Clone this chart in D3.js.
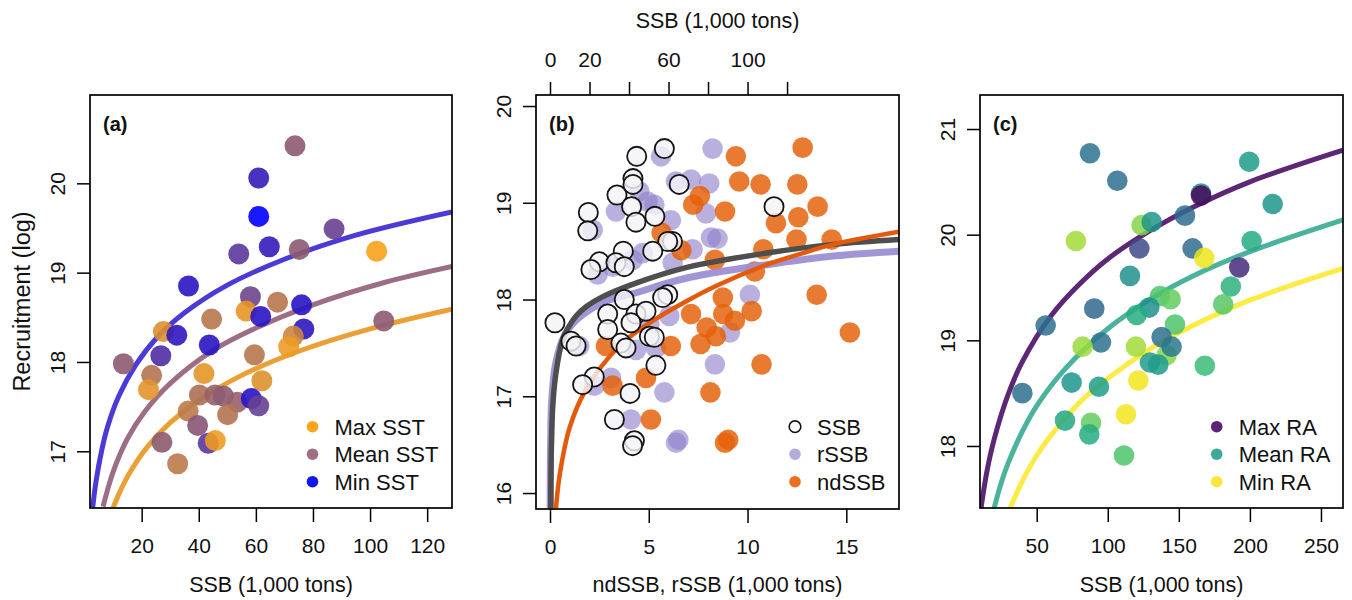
<!DOCTYPE html>
<html><head><meta charset="utf-8">
<script src="https://cdn.jsdelivr.net/npm/d3@7"></script>
<style>body{margin:0;background:#fff}</style>
</head><body><svg id="c" width="1352" height="600"></svg>
<script>
// ---------- DATA ----------
// Panel (a): SSB vs log recruitment, coloured by SST (0 = min, 0.5 = mean, 1 = max)
const aSSB  = [73.7,61,61,87.4,64.7,54,75.2,102.3,36.4,58.1,56.6,61.7,67.6,76,44.5,104.8,27.6,32.3,76.8,73.1,71.5,43.7,26.7,13.6,59.5,41.8,23.5,22.4,62.1,40.2,45.7,48.6,53.5,58.4,61,36.3,50.1,39.6,27.1,43.3,45.8,32.6];
const aRec  = [20.42,20.06,19.63,19.49,19.29,19.21,19.26,19.24,18.85,18.73,18.57,18.51,18.67,18.64,18.48,18.46,18.34,18.30,18.37,18.29,18.17,18.19,18.07,17.98,18.08,17.87,17.85,17.69,17.79,17.63,17.63,17.62,17.55,17.59,17.51,17.45,17.41,17.29,17.10,17.09,17.12,16.86];
const aSST  = [0.5,0.15,0.0,0.35,0.15,0.3,0.5,1.0,0.1,0.38,0.92,0.1,0.7,0.1,0.7,0.5,0.88,0.12,0.12,0.8,0.95,0.1,0.25,0.5,0.7,0.92,0.68,0.9,0.88,0.65,0.55,0.5,0.55,0.1,0.35,0.72,0.68,0.48,0.5,0.3,0.95,0.72];
const aMaxCurve  = [[9.96,16.36],[12,16.52],[16,16.77],[22,17.05],[30,17.32],[40,17.57],[55,17.85],[75,18.12],[100,18.37],[128.7,18.59]];
const aMeanCurve = [[6.47,16.38],[10,16.77],[15,17.14],[21,17.44],[30,17.76],[45,18.13],[60,18.38],[80,18.64],[105,18.89],[128.7,19.07]];
const aMinCurve  = [[2.85,16.37],[4,16.66],[6,17.01],[8,17.27],[12,17.62],[18,17.97],[25,18.26],[35,18.55],[50,18.86],[70,19.15],[95,19.42],[128.7,19.68]];
const aLegend = ["Max SST","Mean SST","Min SST"];
const aTicksX = [20,40,60,80,100,120];
const aTicksY = [17,18,19,20];

// Panel (b)
const bSSB   = [[57.9,19.56],[43.9,19.48],[42,19.25],[42,19.19],[65.4,19.19],[33.9,19.08],[41.3,18.96],[19.4,18.90],[43.5,18.80],[53.1,18.86],[19.1,18.71],[62,18.60],[59.6,18.60],[52,18.50],[37.1,18.50],[25,18.39],[33.4,18.38],[37.6,18.34],[20.7,18.31],[37.6,18.0],[59.6,18.05],[57,18.02],[2.5,17.76],[10.6,17.57],[13.2,17.52],[29.2,17.85],[29.2,17.69],[43.5,17.85],[48.6,17.88],[35.9,17.55],[38.5,17.50],[50.3,17.62],[52.8,17.61],[41,17.76],[53.6,17.32],[22.4,17.20],[16.5,17.12],[40.5,17.03],[32.6,16.76],[42.7,16.54],[41.8,16.49],[113.4,18.96]];
const bRSSB  = [[8.23,19.56],[5.62,19.48],[6.38,19.22],[7.14,19.24],[8.06,19.20],[4.52,19.12],[4.94,19.01],[3.34,18.91],[5.28,18.98],[7.89,18.89],[6.12,18.82],[2.16,18.72],[8.15,18.64],[8.48,18.63],[7.22,18.52],[4.69,18.48],[4.18,18.41],[3.17,18.34],[6.21,18.38],[2.41,18.26],[10.12,18.05],[9.11,17.66],[8.35,17.33],[1.48,17.52],[3.09,17.19],[2.24,17.11],[5.79,17.04],[4.1,16.76],[6.38,16.52],[6.5,16.55],[5.03,17.74],[6.04,17.83],[4.35,17.48],[5.36,17.50]];
const bNdSSB = [[12.79,19.57],[9.41,19.48],[9.58,19.22],[10.66,19.19],[12.52,19.19],[13.55,18.96],[8.86,18.91],[11.44,18.79],[12.57,18.85],[12.48,18.62],[14.26,18.62],[10.8,18.52],[8.35,18.41],[10.37,18.29],[13.5,18.05],[15.18,17.66],[10.71,17.33],[8.75,18.02],[10.21,17.88],[8.77,17.85],[9.36,17.78],[7.93,17.71],[8.4,17.62],[7.62,17.54],[8.12,17.04],[8.86,16.52],[9.02,16.55],[7.25,18.98],[7.59,19.07],[5.65,18.69],[6.65,18.51],[2.83,17.52],[4.86,17.19],[3.17,17.11],[5.11,16.76],[6.12,17.52],[7.14,17.85]];
const bSSBCurve   = [[0.4,15.84],[0.6,16.38],[1.4,16.90],[3,17.24],[6.4,17.59],[9.2,17.71],[13.2,17.83],[18.6,17.93],[26.7,18.03],[43.5,18.17],[68.8,18.33],[109.7,18.48],[143.4,18.57],[176.7,18.62]];
const bRSSBCurve  = [[0.01,15.84],[0.03,16.5],[0.1,17.0],[0.35,17.4],[0.98,17.71],[2.67,17.97],[4.35,18.07],[6.88,18.22],[10.97,18.36],[14.34,18.45],[17.67,18.50]];
const bNdCurve    = [[0.3,15.84],[0.5,16.2],[1.0,16.68],[1.82,17.07],[3.51,17.52],[5.2,17.78],[6.88,17.98],[8.4,18.14],[10.97,18.36],[12.65,18.47],[14.34,18.57],[17.67,18.70]];
const bLegend = ["SSB","rSSB","ndSSB"];
const bTicksX = [0,5,10,15];
const bTicksTop = [0,20,40,60,80,100,120];
const bTopLabels = [0,20,60,100];
const bTicksY = [16,17,18,19,20];

// Panel (c): coloured by RA (viridis, 0 = max RA, 1 = min RA)
const cSSB = [77.6,87.5,106.7,199.5,216,165.6,165.6,154.3,123.8,130.9,122.2,159.7,167.9,201.2,192.5,115.6,186.6,181.2,90.5,136.7,144.2,129.2,120.3,147.3,56.3,95.2,82.3,119.8,141.4,137.9,144.9,129.7,135.5,168.3,74.6,93.8,121.5,39.9,112.8,69.9,88.2,87,111.4];
const cRec = [19.94,20.77,20.51,20.69,20.29,20.39,20.37,20.18,20.09,20.12,19.87,19.87,19.78,19.94,19.69,19.61,19.51,19.34,19.30,19.42,19.39,19.31,19.24,19.15,19.14,18.98,18.94,18.94,18.86,19.03,18.94,18.79,18.77,18.76,18.60,18.56,18.62,18.50,18.30,18.24,18.22,18.11,17.91];
const cRA  = [0.86,0.38,0.36,0.55,0.52,0.5,0.02,0.35,0.82,0.52,0.22,0.35,0.97,0.62,0.12,0.5,0.64,0.74,0.33,0.72,0.76,0.5,0.62,0.72,0.36,0.38,0.85,0.86,0.82,0.36,0.4,0.55,0.55,0.68,0.52,0.56,0.98,0.36,0.98,0.6,0.76,0.62,0.72];
const cMaxCurve  = [[10.8,17.41],[15,17.76],[20,18.06],[30,18.49],[40,18.80],[60,19.23],[80,19.53],[100,19.77],[130,20.04],[160,20.26],[200,20.50],[265.5,20.80]];
const cMeanCurve = [[20,17.41],[25,17.65],[30,17.84],[40,18.14],[50,18.38],[70,18.73],[100,19.11],[130,19.39],[160,19.61],[200,19.84],[265.5,20.14]];
const cMinCurve  = [[31.2,17.41],[40,17.67],[50,17.91],[60,18.10],[80,18.41],[100,18.64],[130,18.92],[160,19.14],[200,19.38],[265.5,19.68]];
const cLegend = ["Max RA","Mean RA","Min RA"];
const cTicksX = [50,100,150,200,250];
const cTicksY = [18,19,20,21];

// ---------- DRAWING ----------
const FONT = "'Liberation Sans', Arial, Helvetica, sans-serif";
const svg = d3.select("#c").attr("font-family", FONT);

function panel(id, box, xDom, yDom) {
  const x = d3.scaleLinear().domain(xDom).range([box.l, box.r]);
  const y = d3.scaleLinear().domain(yDom).range([box.b, box.t]);
  svg.append("clipPath").attr("id", id).append("rect")
    .attr("x", box.l).attr("y", box.t).attr("width", box.r - box.l).attr("height", box.b - box.t);
  const g = svg.append("g").attr("clip-path", `url(#${id})`);
  return {x, y, g, box};
}
function styleAxis(g) {
  g.attr("font-family", FONT).attr("font-size", 21);
  g.select(".domain").remove();
  g.selectAll("line").attr("stroke", "#000").attr("stroke-width", 1.5);
  g.selectAll("text").attr("fill", "#111");
}
function bottomAxis(P, ticks) {
  svg.append("g").attr("transform", `translate(0,${P.box.b})`)
    .call(d3.axisBottom(P.x).tickValues(ticks).tickSize(14).tickPadding(16).tickFormat(d3.format("d")))
    .call(styleAxis);
}
function leftAxis(P, ticks) {
  svg.append("g").attr("transform", `translate(${P.box.l},0)`)
    .call(d3.axisLeft(P.y).tickValues(ticks).tickSize(13).tickFormat(d3.format("d")))
    .call(styleAxis)
    .call(g => g.selectAll("text").attr("transform", "rotate(-90)").attr("x", 0).attr("y", -25)
      .attr("dy", null).attr("text-anchor", "middle"));
}
function frameBox(P) {
  svg.append("rect").attr("x", P.box.l).attr("y", P.box.t)
    .attr("width", P.box.r - P.box.l).attr("height", P.box.b - P.box.t)
    .attr("fill", "none").attr("stroke", "#000").attr("stroke-width", 1.7);
}
function curve(P, xs, pts, color, w, op) {
  P.g.append("path").datum(pts)
    .attr("d", d3.line().x(d => xs(d[0])).y(d => P.y(d[1])).curve(d3.curveCatmullRom.alpha(0.5)))
    .attr("fill", "none").attr("stroke", color).attr("stroke-width", w)
    .attr("stroke-opacity", op).attr("stroke-linecap", "butt");
}
function label(P, txt) {
  svg.append("text").attr("x", P.box.l + 13).attr("y", P.box.t + 36)
    .attr("font-weight", "bold").attr("font-size", 20).attr("fill", "#111").text(txt);
}
function legend(xc, items, texts) {
  const ys = [426.7, 454.2, 481.7];
  items.forEach((it, i) => {
    svg.append("circle").attr("cx", xc).attr("cy", ys[i]).attr("r", 5.8)
      .attr("fill", it.fill).attr("fill-opacity", it.fo == null ? 1 : it.fo)
      .attr("stroke", it.stroke || "none").attr("stroke-width", 1.6);
    svg.append("text").attr("x", xc + 22).attr("y", ys[i]).attr("dy", "0.36em")
      .attr("font-size", 22).attr("fill", "#111").text(texts[i]);
  });
}
function xTitle(cx, y, txt) {
  svg.append("text").attr("x", cx).attr("y", y).attr("text-anchor", "middle")
    .attr("font-size", 21.5).attr("fill", "#111").text(txt);
}

// ----- Panel (a)
const A = panel("clipA", {l: 90, r: 452, t: 95, b: 508}, [1.9, 128.7], [16.365, 20.989]);
const sstColor = d3.scaleLinear().domain([0, 0.08, 0.5, 1]).range(["#0000ff", "#2410c8", "#8c5a72", "#f7a21a"]);
curve(A, A.x, aMinCurve, "#4b3ad6", 5, 1);
curve(A, A.x, aMeanCurve, "#9c6e86", 5, 1);
curve(A, A.x, aMaxCurve, "#eaa035", 5, 1);
A.g.selectAll("circle.pt").data(aSSB).join("circle").attr("class", "pt")
  .attr("cx", d => A.x(d)).attr("cy", (d, i) => A.y(aRec[i])).attr("r", 10.5)
  .attr("fill", (d, i) => sstColor(aSST[i])).attr("fill-opacity", 0.9);
frameBox(A);
bottomAxis(A, aTicksX);
leftAxis(A, aTicksY);
label(A, "(a)");
legend(312.5, [{fill: "#fba51a"}, {fill: "#a06e82"}, {fill: "#1414ee"}], aLegend);
xTitle(271, 592, "SSB (1,000 tons)");
svg.append("text").attr("transform", "translate(30,301.5) rotate(-90)").attr("text-anchor", "middle")
  .attr("font-size", 23.5).attr("fill", "#111").text("Recruitment (log)");

// ----- Panel (b)
const B = panel("clipB", {l: 536, r: 899, t: 95, b: 509}, [-0.709, 17.668], [15.835, 20.114]);
const xTop = d3.scaleLinear().domain([B.x.domain()[0] * 10, B.x.domain()[1] * 10]).range(B.x.range());
B.g.selectAll("circle.r").data(bRSSB).join("circle").attr("class", "r")
  .attr("cx", d => B.x(d[0])).attr("cy", d => B.y(d[1])).attr("r", 10.3)
  .attr("fill", "#8e7fcc").attr("fill-opacity", 0.62);
B.g.selectAll("circle.n").data(bNdSSB).join("circle").attr("class", "n")
  .attr("cx", d => B.x(d[0])).attr("cy", d => B.y(d[1])).attr("r", 10.3)
  .attr("fill", "#e5600a").attr("fill-opacity", 0.84);
curve(B, B.x, bRSSBCurve, "#9d8fd4", 7, 0.95);
curve(B, xTop, bSSBCurve, "#4e4e4e", 5.5, 1);
curve(B, B.x, bNdCurve, "#e35a0b", 4.5, 1);
B.g.selectAll("circle.s").data(bSSB).join("circle").attr("class", "s")
  .attr("cx", d => xTop(d[0])).attr("cy", d => B.y(d[1])).attr("r", 9.6)
  .attr("fill", "#f4f4f8").attr("fill-opacity", 0.82).attr("stroke", "#151515").attr("stroke-width", 1.8);
frameBox(B);
bottomAxis(B, bTicksX);
leftAxis(B, bTicksY);
svg.append("g").attr("transform", `translate(0,${B.box.t})`)
  .call(d3.axisTop(xTop).tickValues(bTicksTop).tickSize(13).tickPadding(15)
    .tickFormat(d => bTopLabels.includes(d) ? d : ""))
  .call(styleAxis);
label(B, "(b)");
legend(795, [{fill: "#fff", stroke: "#111"}, {fill: "#8e7fcc", fo: 0.65}, {fill: "#e5600a", fo: 0.9}], bLegend);
xTitle(717.5, 592, "ndSSB, rSSB (1,000 tons)");
xTitle(717.5, 28, "SSB (1,000 tons)");

// ----- Panel (c)
const C = panel("clipC", {l: 980, r: 1343, t: 95, b: 508}, [10.11, 265.5], [17.413, 21.322]);
curve(C, C.x, cMaxCurve, "#4a0f66", 5, 0.9);
curve(C, C.x, cMeanCurve, "#2aa58c", 5, 0.85);
curve(C, C.x, cMinCurve, "#fde725", 5, 0.85);
C.g.selectAll("circle.pt").data(cSSB).join("circle").attr("class", "pt")
  .attr("cx", d => C.x(d)).attr("cy", (d, i) => C.y(cRec[i])).attr("r", 10.3)
  .attr("fill", (d, i) => d3.interpolateViridis(cRA[i])).attr("fill-opacity", 0.85);
frameBox(C);
bottomAxis(C, cTicksX);
leftAxis(C, cTicksY);
label(C, "(c)");
legend(1216.7, [{fill: "#5a2378"}, {fill: "#3caa96"}, {fill: "#fae63c"}], cLegend);
xTitle(1161.5, 592, "SSB (1,000 tons)");
</script></body></html>
